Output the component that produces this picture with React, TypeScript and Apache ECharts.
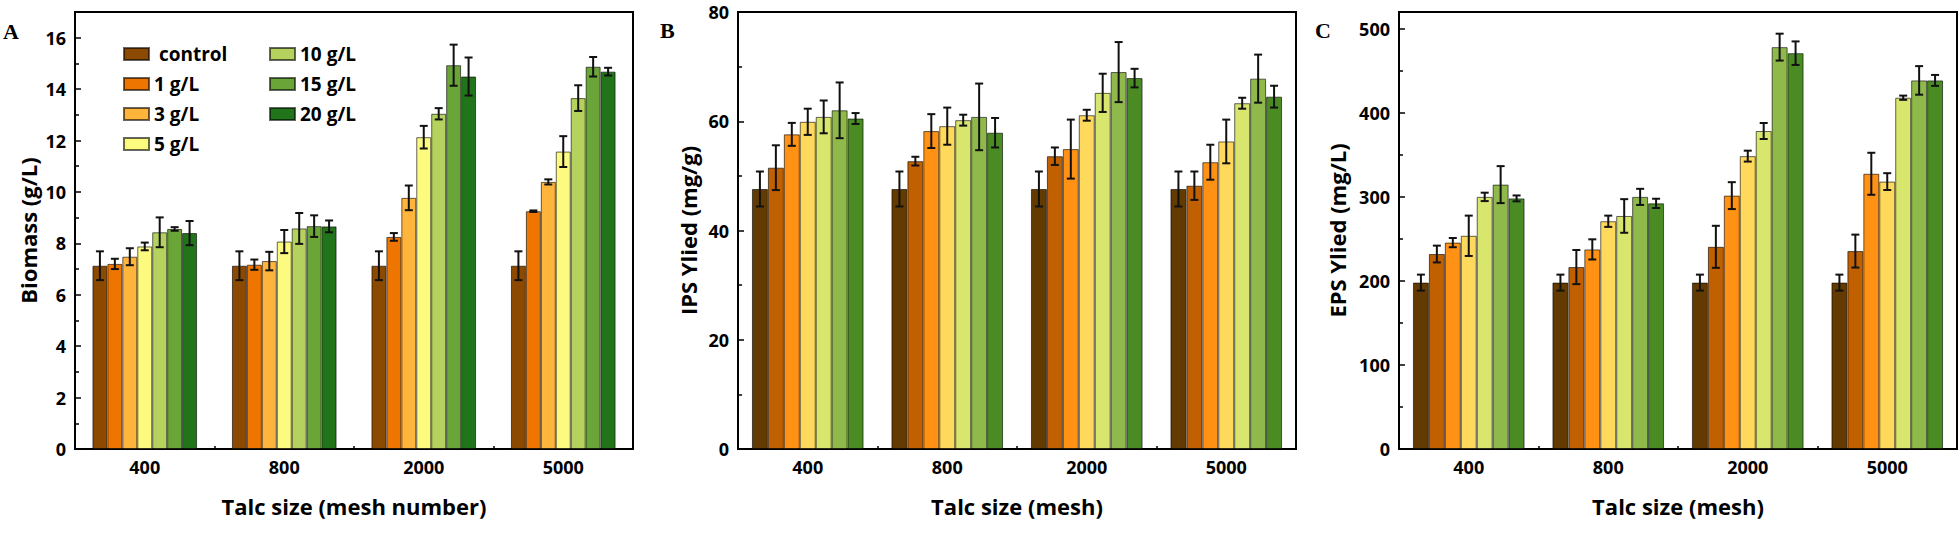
import React, { useEffect, useRef } from 'react';
import * as echarts from 'echarts';

const categories = ['400', '800', '2000', '5000'];
const seriesNames = ['control', '1 g/L', '3 g/L', '5 g/L', '10 g/L', '15 g/L', '20 g/L'];

// Panel A – Biomass (g/L); rows = treatments, columns = categories
const biomassMeans = [
  [7.13, 7.13, 7.13, 7.13],
  [7.2, 7.17, 8.25, 9.25],
  [7.48, 7.31, 9.77, 10.39],
  [7.88, 8.07, 12.13, 11.57],
  [8.43, 8.58, 13.04, 13.65],
  [8.56, 8.67, 14.93, 14.87],
  [8.4, 8.66, 14.49, 14.68],
];
const biomassErr = [
  [0.56, 0.56, 0.56, 0.56],
  [0.2, 0.2, 0.15, 0.03],
  [0.33, 0.36, 0.48, 0.1],
  [0.15, 0.45, 0.44, 0.6],
  [0.58, 0.6, 0.22, 0.5],
  [0.07, 0.42, 0.8, 0.38],
  [0.47, 0.23, 0.74, 0.15],
];

// Panel B – IPS yield (mg/g)
const ipsMeans = [
  [47.6, 47.6, 47.6, 47.6],
  [51.5, 52.7, 53.6, 48.2],
  [57.6, 58.2, 54.9, 52.5],
  [59.9, 59.1, 61.1, 56.3],
  [60.8, 60.2, 65.2, 63.3],
  [62.0, 60.8, 69.0, 67.8],
  [60.5, 57.9, 67.9, 64.5],
];
const ipsErr = [
  [3.2, 3.2, 3.2, 3.2],
  [4.1, 0.8, 1.6, 2.6],
  [2.1, 3.1, 5.4, 3.2],
  [2.4, 3.4, 1.0, 4.0],
  [3.0, 1.0, 3.5, 1.0],
  [5.1, 6.1, 5.5, 4.4],
  [1.0, 2.7, 1.7, 2.0],
];

// Panel C – EPS yield (mg/L)
const epsMeans = [
  [198, 198, 198, 198],
  [232, 216.5, 240.6, 235.5],
  [245.6, 237.5, 301.5, 327.5],
  [253.7, 271, 348.5, 318.2],
  [300, 277.3, 378.4, 418],
  [314.6, 300, 478.2, 438.6],
  [298.2, 292.3, 471, 438.6],
];
const epsErr = [
  [9.5, 9.5, 9.5, 9.5],
  [10, 20.3, 25, 19.6],
  [5.5, 12, 16, 25],
  [24, 6.7, 6.5, 10],
  [5, 20, 9.5, 2.5],
  [22, 9.6, 16, 17],
  [3.5, 5.5, 14, 6.5],
];

const colorsA = ['#8c4a00', '#ee7600', '#ffb43c', '#fdfa80', '#b5d25e', '#6aa538', '#22741a'];
const colorsBC = ['#633a00', '#c06000', '#ff9214', '#ffd95c', '#d9e66e', '#8fb94b', '#4a8c23'];

const FONT = '"Open Sans", "Noto Sans", sans-serif';

type Panel = {
  means: number[][];
  errs: number[][];
  colors: string[];
  gap: number;
  left: number;
  yMax: number;
  yInterval: number;
  yName: string;
  yNameGap: number;
  xName: string;
};

const panels: Panel[] = [
  { means: biomassMeans, errs: biomassErr, colors: colorsA, gap: 0.25, left: 75, yMax: 17, yInterval: 2, yName: 'Biomass (g/L)', yNameGap: 36, xName: 'Talc size (mesh number)' },
  { means: ipsMeans, errs: ipsErr, colors: colorsBC, gap: 0.2, left: 738, yMax: 80, yInterval: 20, yName: 'IPS Ylied (mg/g)', yNameGap: 39, xName: 'Talc size (mesh)' },
  { means: epsMeans, errs: epsErr, colors: colorsBC, gap: 0.2, left: 1399, yMax: 520, yInterval: 100, yName: 'EPS Ylied (mg/L)', yNameGap: 51, xName: 'Talc size (mesh)' },
];

const GRID_TOP = 12;
const GRID_H = 437;
const GRID_W = 558;

export default function App() {
  const ref = useRef<HTMLDivElement>(null);
  useEffect(() => {
    if (!ref.current) return;
    const chart = echarts.init(ref.current, undefined, { renderer: 'svg' });

    const grid: any[] = [];
    const xAxis: any[] = [];
    const yAxis: any[] = [];
    const series: any[] = [];

    panels.forEach((p, g) => {
      grid.push({
        left: p.left, top: GRID_TOP, width: GRID_W, height: GRID_H,
        show: true, borderColor: '#000', borderWidth: 2, backgroundColor: 'transparent',
      });
      xAxis.push({
        type: 'category', gridIndex: g, data: categories, position: 'bottom',
        name: p.xName, nameLocation: 'middle', nameGap: 46,
        nameTextStyle: { fontFamily: FONT, fontWeight: 'bold', fontSize: 22, color: '#000' },
        axisLine: { show: true, lineStyle: { color: '#000', width: 2 } },
        axisTick: { show: true, alignWithLabel: true, inside: true, length: 6, lineStyle: { color: '#000', width: 2 } },
        axisLabel: { fontFamily: FONT, fontWeight: 'bold', fontSize: 18, color: '#000', margin: 9 },
        splitLine: { show: false },
      });
      xAxis.push({
        type: 'category', gridIndex: g, data: categories, position: 'bottom',
        axisLine: { show: false },
        axisTick: { show: true, alignWithLabel: false, inside: true, length: 3, lineStyle: { color: '#000', width: 1.5 } },
        axisLabel: { show: false },
        splitLine: { show: false },
      });
      yAxis.push({
        type: 'value', gridIndex: g, min: 0, max: p.yMax, interval: p.yInterval,
        name: p.yName, nameLocation: 'middle', nameGap: p.yNameGap,
        nameRotate: 90,
        nameTextStyle: { fontFamily: FONT, fontWeight: 'bold', fontSize: 22, color: '#000' },
        axisLine: { show: true, lineStyle: { color: '#000', width: 2 } },
        axisTick: { show: true, inside: true, length: 6, lineStyle: { color: '#000', width: 1.5 } },
        minorTick: { show: true, splitNumber: 2, length: 4, lineStyle: { color: '#000', width: 1.5 } },
        axisLabel: {
          fontFamily: FONT, fontWeight: 'bold', fontSize: 18, color: '#000', margin: 9,
          showMaxLabel: p.yMax % p.yInterval === 0,
        },
        splitLine: { show: false },
        minorSplitLine: { show: false },
      });

      seriesNames.forEach((name, si) => {
        series.push({
          type: 'bar', name, xAxisIndex: g * 2, yAxisIndex: g,
          data: p.means[si],
          barGap: '0%', barCategoryGap: `${Math.round(p.gap * 100)}%`,
          itemStyle: { color: p.colors[si], borderColor: 'rgba(0,0,0,0.6)', borderWidth: 1 },
          emphasis: { disabled: true },
          silent: true,
        });
      });

      const errData: number[][] = [];
      seriesNames.forEach((_, si) => {
        categories.forEach((_, ci) => {
          errData.push([ci, p.means[si][ci], p.errs[si][ci], si]);
        });
      });
      const gap = p.gap;
      series.push({
        type: 'custom', xAxisIndex: g * 2, yAxisIndex: g,
        data: errData, encode: { x: 0, y: 1 }, z: 10, silent: true,
        renderItem: (params: any, api: any) => {
          const ci = api.value(0);
          const v = api.value(1);
          const e = api.value(2);
          const si = api.value(3);
          const band = api.size([1, 0])[0];
          const gw = band * (1 - gap);
          const bw = gw / seriesNames.length;
          const c = api.coord([ci, v]);
          const x = c[0] - gw / 2 + bw * (si + 0.5);
          const yt = api.coord([ci, v + e])[1];
          const yb = api.coord([ci, v - e])[1];
          const cap = 4;
          const st = { stroke: '#111', lineWidth: 2 };
          return {
            type: 'group',
            children: [
              { type: 'line', shape: { x1: x, y1: yt, x2: x, y2: yb }, style: st },
              { type: 'line', shape: { x1: x - cap, y1: yt, x2: x + cap, y2: yt }, style: st },
              { type: 'line', shape: { x1: x - cap, y1: yb, x2: x + cap, y2: yb }, style: st },
            ],
          };
        },
      });
    });

    const legendCommon = {
      orient: 'vertical',
      itemWidth: 25,
      itemHeight: 12,
      itemGap: 10,
      icon: 'rect',
      selectedMode: false,
      textStyle: { fontFamily: FONT, fontWeight: 'bold', fontSize: 19, color: '#000', lineHeight: 20 },
    };

    chart.setOption({
      animation: false,
      backgroundColor: '#fff',
      grid,
      xAxis,
      yAxis,
      series,
      legend: [
        { ...legendCommon, left: 118, top: 39, data: seriesNames.slice(0, 4),
          formatter: (n: string) => (n === 'control' ? '\u00a0control' : n) },
        { ...legendCommon, left: 264, top: 39, data: seriesNames.slice(4) },
      ],
      graphic: [
        { type: 'text', left: 3, top: 20, style: { text: 'A', font: 'bold 22px "Liberation Serif", serif', fill: '#000' } },
        { type: 'text', left: 660, top: 19, style: { text: 'B', font: 'bold 22px "Liberation Serif", serif', fill: '#000' } },
        { type: 'text', left: 1315, top: 19, style: { text: 'C', font: 'bold 22px "Liberation Serif", serif', fill: '#000' } },
      ],
    });

    return () => chart.dispose();
  }, []);

  return (
    <div
      ref={ref}
      style={{ position: 'absolute', left: 0, top: 0, width: 1960, height: 535, background: '#fff' }}
    />
  );
}
